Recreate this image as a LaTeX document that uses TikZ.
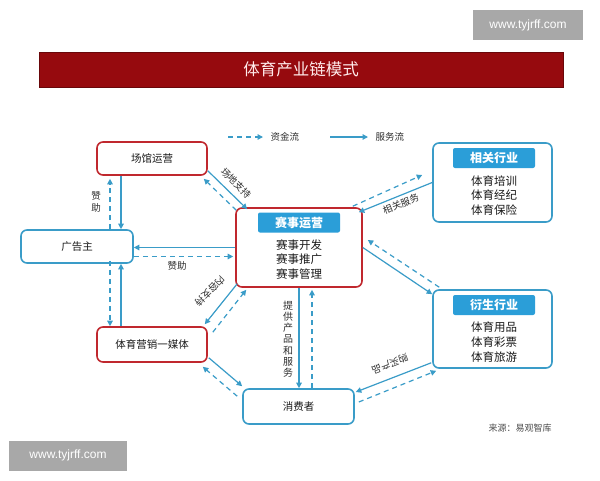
\documentclass[tikz,border=0pt]{standalone}
\usepackage{fontspec}
\setmainfont{Noto Sans CJK SC}
\newfontfamily\wmfont{Liberation Sans}
\usetikzlibrary{arrows.meta,calc}
\definecolor{myblue}{HTML}{3A9CC8}
\definecolor{tagblue}{HTML}{2B9ED8}
\definecolor{myred}{HTML}{C0282E}
\definecolor{banner}{HTML}{960A0E}
\definecolor{wmgray}{HTML}{A8A8A8}
\begin{document}
\begin{tikzpicture}[x=1pt,y=-1pt,
  basebox/.style={line width=1.6pt, rounded corners=6pt, fill=white, inner sep=0pt},
  redbox/.style={basebox, draw=myred},
  bluebox/.style={basebox, draw=myblue},
  txt/.style={font=\fontsize{10.5}{12}\selectfont, text=black!90},
  tag/.style={fill=tagblue, rounded corners=2pt, minimum width=82pt, minimum height=20pt, inner sep=0pt, text=white, font=\fontsize{12}{14}\selectfont\bfseries},
  lines/.style={align=center, text=black!90, font=\fontsize{11.5}{14.8}\selectfont},
  srv/.style={draw=myblue, line width=1.2pt, -{Triangle[length=5.5pt,width=5.5pt]}},
  fund/.style={srv, dash pattern=on 5pt off 4pt},
  lbl/.style={font=\fontsize{9.5}{11}\selectfont, text=black!82, inner sep=0.5pt},
  wm/.style={fill=wmgray, text=white, font=\wmfont\fontsize{12}{14}\selectfont, inner sep=0pt}
]
\useasboundingbox (0,0) rectangle (600,480);
\fill[white] (0,0) rectangle (600,480);

% watermarks
\node[wm, minimum width=110pt, minimum height=30pt] (wm1) at (528,25) {www.tyjrff.com};
\node[wm, minimum width=118pt, minimum height=30pt] (wm2) at (68,455.5) {www.tyjrff.com};

% title banner
\node[fill=banner, draw=banner!70!black, line width=0.6pt, minimum width=524pt, minimum height=35pt, inner sep=0pt,
      text=white!92!red, font=\fontsize{16.5}{18}\selectfont] (title) at (301,69.5) {体育产业链模式};

% legend
\coordinate (l1a) at (228,137); \coordinate (l1b) at (263,137);
\coordinate (l2a) at (330,137); \coordinate (l2b) at (368,137);
\draw[fund] (l1a) -- (l1b);
\node[lbl, anchor=west] (lt1) at (270,137) {资金流};
\draw[srv] (l2a) -- (l2b);
\node[lbl, anchor=west] (lt2) at (375,137) {服务流};

% nodes
\node[redbox, minimum width=110pt, minimum height=33pt, txt] (cg) at (152,158.5) {场馆运营};
\node[bluebox, minimum width=112pt, minimum height=33pt, txt] (ggz) at (77,246.5) {广告主};
\node[redbox, minimum width=110pt, minimum height=35pt, txt] (media) at (152,344.5) {体育营销一媒体};
\node[bluebox, minimum width=111pt, minimum height=35pt, txt] (xf) at (298.5,406.5) {消费者};

\node[redbox, minimum width=126pt, minimum height=79pt] (ss) at (299,247.5) {};
\node[tag] (sstag) at (299,222.5) {赛事运营};
\node[lines] (sstxt) at (299,259.5) {赛事开发\\赛事推广\\赛事管理};

\node[bluebox, minimum width=119pt, minimum height=79pt] (xg) at (492.5,182.5) {};
\node[tag] (xgtag) at (494,158) {相关行业};
\node[lines] (xgtxt) at (494,195.5) {体育培训\\体育经纪\\体育保险};

\node[bluebox, minimum width=119pt, minimum height=78pt] (ys) at (492.5,329) {};
\node[tag] (ystag) at (494,305) {衍生行业};
\node[lines] (ystxt) at (494,342) {体育用品\\体育彩票\\体育旅游};

\node[lbl, font=\fontsize{9}{11}\selectfont, text=black!70] (src) at (520,428) {来源：易观智库};

% cg <-> ggz
\draw[srv] ([xshift=-31pt]cg.south) -- ([xshift=-31pt]cg.south |- ggz.north);
\draw[fund] ([xshift=-42pt]cg.south |- ggz.north) -- ([xshift=-42pt,yshift=-3pt]cg.south);
\node[lbl, align=center, font=\fontsize{9.5}{12}\selectfont] (zz1) at (96,202) {赞\\助};

% media <-> ggz
\draw[srv] ([xshift=-31pt]media.north) -- ([xshift=-31pt]media.north |- ggz.south);
\draw[fund] ([xshift=-42pt,yshift=3pt]media.north |- ggz.south) -- ([xshift=-42pt]media.north);

% ss <-> ggz
\draw[srv] (ss.west) -- (ss.west -| ggz.east);
\draw[fund] ([yshift=-10pt]ggz.east) -- ([yshift=-10pt,xshift=-2pt]ggz.east -| ss.west);
\node[lbl] (zz2) at (177,266) {赞助};

% cg <-> ss
\draw[srv] ([yshift=5pt]cg.south east) -- ([xshift=12pt,yshift=-2pt]ss.north west);
\draw[fund] ([xshift=1pt,yshift=-3pt]ss.north west) -- ([xshift=-4pt,yshift=-3pt]cg.south east);
\node[lbl, rotate=-45] (cd) at (236,183) {场地支持};

% ss <-> media
\draw[srv] ([xshift=2pt,yshift=4pt]ss.south west) -- ([xshift=-3pt,yshift=2pt]media.north east);
\draw[fund] ([xshift=5pt,yshift=-6pt]media.north east) -- ([xshift=11pt,yshift=-2pt]ss.south west);
\node[lbl, rotate=225] (nr) at (210,291) {内容支持};

% media <-> xf
\draw[srv] ([xshift=1pt,yshift=5pt]media.south east) -- ([yshift=2pt]xf.north west);
\draw[fund] ([xshift=-5pt,yshift=-8pt]xf.north west) -- ([xshift=-5pt,yshift=-4pt]media.south east);

% ss <-> xf
\draw[srv] (ss.south) -- (ss.south |- xf.north);
\draw[fund] ([xshift=13pt]ss.south |- xf.north) -- ([xshift=13pt,yshift=-2pt]ss.south);
\node[lbl, align=center, font=\fontsize{10}{11.2}\selectfont] (tg) at (288,339) {提\\供\\产\\品\\和\\服\\务};

% ss <-> xg
\draw[fund] ([xshift=-10pt,yshift=1pt]ss.north east) -- ([xshift=-10pt,yshift=7.5pt]xg.west);
\draw[srv] (xg.west) -- ([xshift=-4pt,yshift=-5pt]ss.north east);
\node[lbl, rotate=22] (xgfw) at (401,204) {相关服务};

% ss <-> ys
\draw[srv] (ss.east) -- ([yshift=-5pt]ys.north west);
\draw[fund] ([xshift=7pt,yshift=2pt]ys.north west) -- ([xshift=5pt,yshift=7.5pt]ss.east);

% ys <-> xf
\draw[srv] ([xshift=-1pt,yshift=6pt]ys.south west) -- ([xshift=1pt,yshift=14.5pt]xf.east);
\draw[fund] ([xshift=4pt,yshift=4.5pt]xf.east) -- ([xshift=4pt,yshift=-2pt]ys.south west);
\node[lbl, rotate=201] (gm) at (390,364) {购买产品};
\end{tikzpicture}
\end{document}
